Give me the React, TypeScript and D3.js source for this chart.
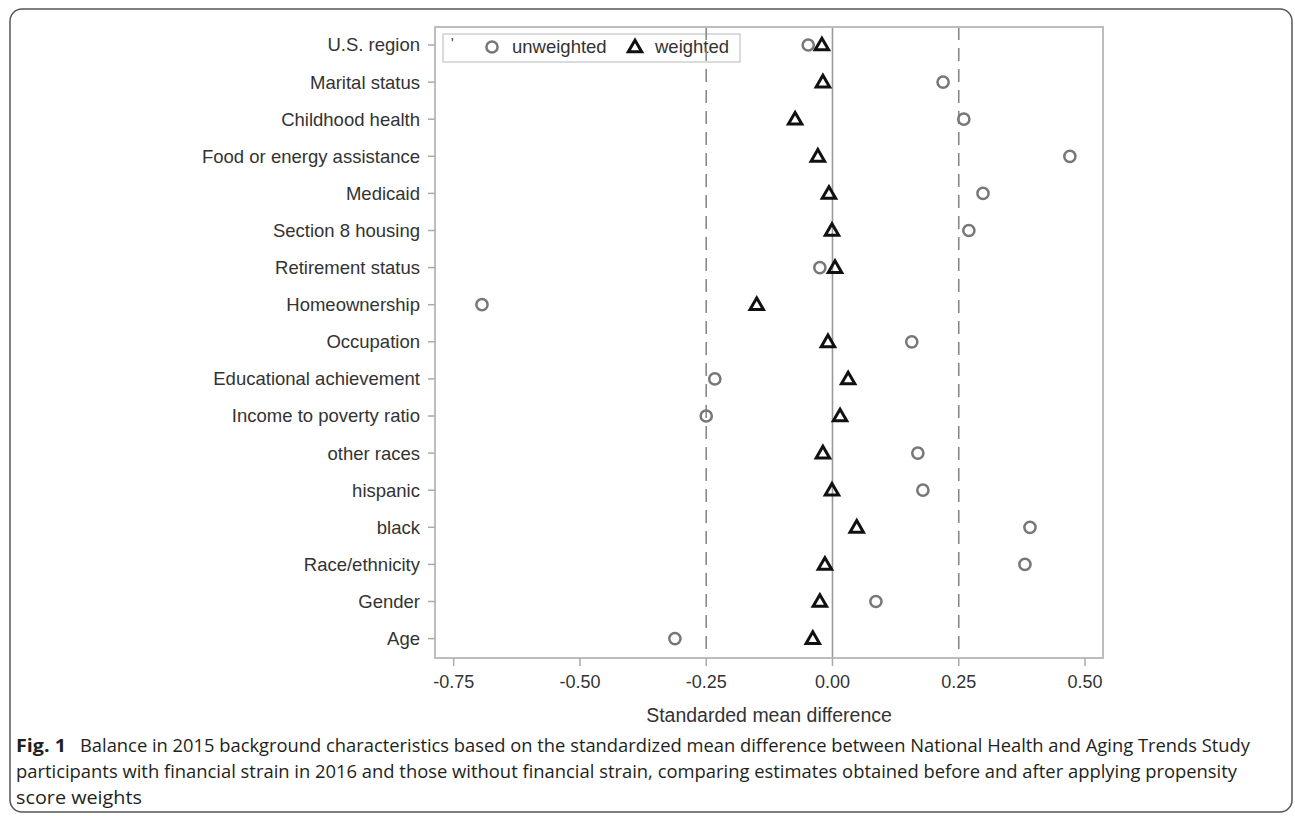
import React from "react";
import * as d3 from "d3";

const categories = [
  "U.S. region",
  "Marital status",
  "Childhood health",
  "Food or energy assistance",
  "Medicaid",
  "Section 8 housing",
  "Retirement status",
  "Homeownership",
  "Occupation",
  "Educational achievement",
  "Income to poverty ratio",
  "other races",
  "hispanic",
  "black",
  "Race/ethnicity",
  "Gender",
  "Age",
];
const unweighted = [
  -0.048, 0.219, 0.26, 0.47, 0.298, 0.27, -0.025, -0.694, 0.157, -0.233, -0.25,
  0.169, 0.179, 0.391, 0.381, 0.086, -0.312,
];
const weighted = [
  -0.021, -0.019, -0.074, -0.029, -0.007, -0.001, 0.005, -0.15, -0.009, 0.031,
  0.015, -0.019, -0.001, 0.048, -0.015, -0.025, -0.039,
];
const xTicks = [-0.75, -0.5, -0.25, 0, 0.25, 0.5];
const refLines = [-0.25, 0.25];
const xTitle = "Standarded mean difference";
const legendLabels = ["unweighted", "weighted"];
const captionBold = "Fig. 1";
const captionLines = [
  "Balance in 2015 background characteristics based on the standardized mean difference between National Health and Aging Trends Study",
  "participants with financial strain in 2016 and those without financial strain, comparing estimates obtained before and after applying propensity",
  "score weights",
];

const W = 1295;
const H = 816;
const plot = { left: 435, right: 1103, top: 27, bottom: 658 };
const FONT = "'Liberation Sans', Arial, sans-serif";
const CAP_FONT = "'Open Sans', 'Noto Sans', sans-serif";

export default function App() {
  const x = d3
    .scaleLinear()
    .domain([-0.787, 0.5356])
    .range([plot.left, plot.right]);
  const y = d3.scalePoint<string>().domain(categories).range([45, 638.6]);

  const circle = d3.symbol().type(d3.symbolCircle).size(Math.PI * 5.6 * 5.6)();
  const tri = d3.symbol().type(d3.symbolTriangle).size(78)();

  const txt = "#333333";

  return (
    <svg
      width={W}
      height={H}
      style={{ position: "absolute", left: 0, top: 0, background: "#fff" }}
    >
      {/* outer rounded border */}
      <rect
        x={10}
        y={9}
        width={1282}
        height={803}
        rx={12}
        ry={12}
        fill="none"
        stroke="#555"
        strokeWidth={1.5}
      />

      {/* legend */}
      <rect
        x={443}
        y={34}
        width={297}
        height={28}
        fill="#fff"
        stroke="#cfcfcf"
        strokeWidth={1.5}
      />
      <text x={451} y={48} fontFamily={FONT} fontSize={14} fill={txt}>
        '
      </text>
      <path d={circle!} transform="translate(492,47)" fill="none" stroke="#777" strokeWidth={2.5} />
      <text x={512} y={47} dy="0.35em" fontFamily={FONT} fontSize={18.5} fill={txt}>
        {legendLabels[0]}
      </text>
      <path d={tri!} transform="translate(635,48)" fill="none" stroke="#111" strokeWidth={3} strokeLinejoin="miter" />
      <text x={655} y={47} dy="0.35em" fontFamily={FONT} fontSize={18.5} fill={txt}>
        {legendLabels[1]}
      </text>

      {/* reference lines */}
      {refLines.map((v) => (
        <line
          key={v}
          x1={x(v)}
          x2={x(v)}
          y1={plot.top}
          y2={plot.bottom}
          stroke="#888"
          strokeWidth={1.6}
          strokeDasharray="13,8"
        />
      ))}
      <line x1={x(0)} x2={x(0)} y1={plot.top} y2={plot.bottom} stroke="#999" strokeWidth={1.6} />

      {/* frame */}
      <rect
        x={plot.left}
        y={plot.top}
        width={plot.right - plot.left}
        height={plot.bottom - plot.top}
        fill="none"
        stroke="#bdbdbd"
        strokeWidth={2}
      />

      {/* y axis */}
      {categories.map((c) => (
        <g key={c}>
          <line x1={428} x2={plot.left} y1={y(c)} y2={y(c)} stroke="#aaa" strokeWidth={1.5} />
          <text
            x={420}
            y={y(c)}
            dy="0.35em"
            textAnchor="end"
            fontFamily={FONT}
            fontSize={18.5}
            fill={txt}
          >
            {c}
          </text>
        </g>
      ))}

      {/* x axis */}
      {xTicks.map((t) => (
        <g key={t}>
          <line x1={x(t)} x2={x(t)} y1={plot.bottom} y2={plot.bottom + 8} stroke="#aaa" strokeWidth={1.5} />
          <text
            x={x(t)}
            y={682}
            dy="0.35em"
            textAnchor="middle"
            fontFamily={FONT}
            fontSize={18}
            fill={txt}
          >
            {d3.format(".2f")(t).replace("−", "-")}
          </text>
        </g>
      ))}
      <text
        x={(plot.left + plot.right) / 2}
        y={715}
        dy="0.35em"
        textAnchor="middle"
        fontFamily={FONT}
        fontSize={19.5}
        fill={txt}
      >
        {xTitle}
      </text>

      {/* markers */}
      {categories.map((c, i) => (
        <path
          key={"u" + c}
          d={circle!}
          transform={`translate(${x(unweighted[i])},${y(c)})`}
          fill="none"
          stroke="#777"
          strokeWidth={2.5}
        />
      ))}
      {categories.map((c, i) => (
        <path
          key={"w" + c}
          d={tri!}
          transform={`translate(${x(weighted[i])},${(y(c) as number) + 1})`}
          fill="none"
          stroke="#111"
          strokeWidth={3}
        />
      ))}

      {/* caption */}
      <text x={16} y={746} dy="0.35em" fontFamily={CAP_FONT} fontSize={18} fontWeight={700} fill="#231f20" textLength={50} lengthAdjust="spacingAndGlyphs">
        {captionBold}
      </text>
      <text x={80} y={746} dy="0.35em" fontFamily={CAP_FONT} fontSize={18} fill="#231f20" textLength={1170} lengthAdjust="spacingAndGlyphs">
        {captionLines[0]}
      </text>
      <text x={16} y={772} dy="0.35em" fontFamily={CAP_FONT} fontSize={18} fill="#231f20" textLength={1221} lengthAdjust="spacingAndGlyphs">
        {captionLines[1]}
      </text>
      <text x={16} y={798} dy="0.35em" fontFamily={CAP_FONT} fontSize={18} fill="#231f20" textLength={126} lengthAdjust="spacingAndGlyphs">
        {captionLines[2]}
      </text>
    </svg>
  );
}
